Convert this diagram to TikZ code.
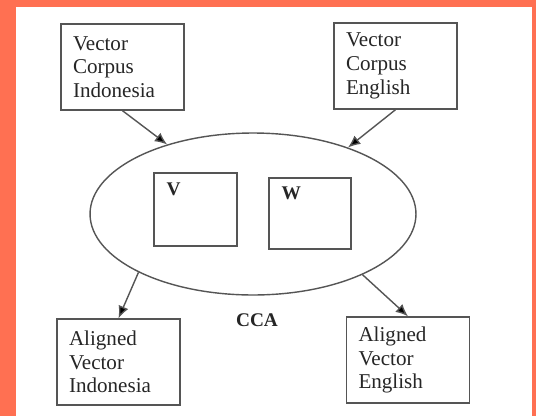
\documentclass[tikz,border=0pt]{standalone}
\usepackage{fontspec}
\setmainfont{Liberation Serif}
\usetikzlibrary{shapes, arrows.meta, positioning, shapes.geometric}

\definecolor{frameorange}{RGB}{255,112,82}
\definecolor{linegray}{RGB}{85,85,85}

\tikzset{
  textbox/.style={draw=linegray, line width=0.8pt, rectangle, align=left,
    text width=1.98cm, inner xsep=0.24cm, minimum height=1.72cm,
    font=\fontsize{12}{13.5}\selectfont, text=black!85},
  matbox/.style={draw=linegray, line width=0.8pt, rectangle},
  link/.style={-{Latex[length=7pt, width=6pt, fill=black]}, draw=linegray, line width=0.8pt}
}

\begin{document}
\begin{tikzpicture}[x=0.02cm, y=-0.02cm]
\useasboundingbox (0,0) rectangle (536,416);
\fill[frameorange] (0,0) rectangle (536,416);
\fill[white] (16,7) rectangle (532,416);

\node[textbox] (vci) at (122.5,67) {Vector\\Corpus\\Indonesia};
\node[textbox] (vce) at (395.5,66) {Vector\\Corpus\\English};

\node[ellipse, draw=linegray, line width=0.8pt, inner sep=0pt,
  minimum width=6.52cm, minimum height=3.24cm] (cca) at (253,214) {};

\node[matbox, minimum width=1.66cm, minimum height=1.46cm,
  label={[anchor=north west, inner sep=0pt, xshift=0.26cm, yshift=-0.2cm, font=\bfseries\fontsize{11}{12}\selectfont, text=black!85]north west:V}] (V) at (195.5,209.5) {};
\node[matbox, minimum width=1.64cm, minimum height=1.42cm,
  label={[anchor=north west, inner sep=0pt, xshift=0.26cm, yshift=-0.18cm, font=\bfseries\fontsize{11}{12}\selectfont, text=black!85]north west:W}] (W) at (310,213.5) {};

\node[font=\bfseries\fontsize{11}{12}\selectfont, text=black!85] (ccalabel) at (257,320) {CCA};

\node[textbox] (avi) at (118.5,362) {Aligned\\Vector\\Indonesia};
\node[textbox] (ave) at (408,360) {Aligned\\Vector\\English};

% arrows in and out of the CCA step
\draw[link] (vci.south) -- (cca.141);
\draw[link] (vce.south) -- (cca.35);
\draw[link] (cca.207) -- (avi.north);
\draw[link] (cca.331) -- (ave.north);
\end{tikzpicture}
\end{document}
